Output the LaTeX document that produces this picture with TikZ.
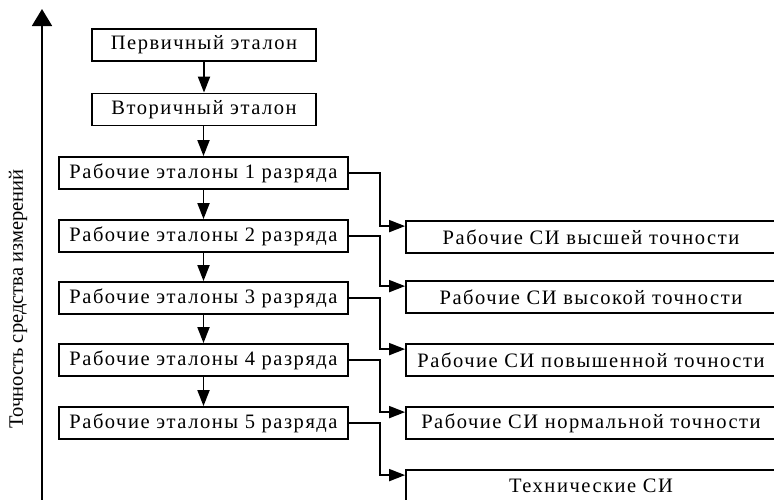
\documentclass[tikz,border=0pt]{standalone}
\usepackage{fontspec}
\setmainfont{Liberation Serif}
\newfontfamily\spacedfont[LetterSpace=7.5]{Liberation Serif}
\usetikzlibrary{arrows.meta}
\begin{document}
\begin{tikzpicture}[x=1pt,y=-1pt,
  box/.style={draw, line width=1.8pt, minimum height=32pt, inner sep=0pt, font=\spacedfont\fontsize{20.5}{23}\selectfont},
  lbox/.style={box, minimum width=289pt},
  rbox/.style={box, minimum width=370pt},
  arr/.style={-{Triangle[length=16pt,width=12pt]}, line width=1.8pt},
  axisarr/.style={-{Triangle[length=17pt,width=20pt]}, line width=1.8pt},
]
\useasboundingbox (0,0) rectangle (774,499);
\clip (0,0) rectangle (774,499);
% axis
\coordinate (ab) at (42,505);
\coordinate (at) at (42,9);
\draw[axisarr] (ab) -- (at);
\node[rotate=90, font=\fontsize{20.5}{23}\selectfont, inner sep=0pt] (lbl) at (18,299) {Точность средства измерений};
% top boxes
\node[box, minimum width=224pt] (p1) at (204,45) {Первичный эталон};
\node[box, minimum width=224pt] (p2) at (204,109.5) {Вторичный эталон};
% working standards
\node[lbox] (w1) at (203.5,173) {Рабочие эталоны 1 разряда};
\node[lbox] (w2) at (203.5,236) {Рабочие эталоны 2 разряда};
\node[lbox] (w3) at (203.5,298) {Рабочие эталоны 3 разряда};
\node[lbox] (w4) at (203.5,360) {Рабочие эталоны 4 разряда};
\node[lbox] (w5) at (203.5,423) {Рабочие эталоны 5 разряда};
% working measuring instruments
\node[rbox] (r1) at (591,237) {Рабочие СИ высшей точности};
\node[rbox] (r2) at (591,297) {Рабочие СИ высокой точности};
\node[rbox] (r3) at (591,360) {Рабочие СИ повышенной точности};
\node[rbox] (r4) at (591,423) {Рабочие СИ нормальной точности};
\node[rbox] (r5) at (591,486) {Технические СИ};
% vertical arrows
\draw[arr] (p1) -- (p2);
\draw[arr] (p2.south -| w1.north) -- (w1.north);
\draw[arr] (w1) -- (w2);
\draw[arr] (w2) -- (w3);
\draw[arr] (w3) -- (w4);
\draw[arr] (w4) -- (w5);
% side connectors
\coordinate (turn) at (380,0);
\draw[arr] (w1.east) -- (w1.east -| turn) |- ([yshift=-6pt]r1.north west);
\draw[arr] (w2.east) -- (w2.east -| turn) |- ([yshift=-6pt]r2.north west);
\draw[arr] (w3.east) -- (w3.east -| turn) |- ([yshift=-6pt]r3.north west);
\draw[arr] (w4.east) -- (w4.east -| turn) |- ([yshift=-6pt]r4.north west);
\draw[arr] (w5.east) -- (w5.east -| turn) |- ([yshift=-6pt]r5.north west);
\end{tikzpicture}
\end{document}
